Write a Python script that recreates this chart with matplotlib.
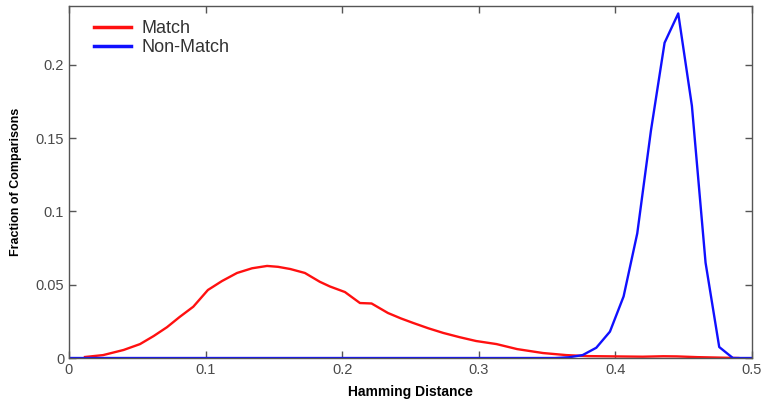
import matplotlib
matplotlib.use('Agg')
import matplotlib.pyplot as plt

plt.rcParams['font.family'] = ['Liberation Sans', 'DejaVu Sans']

# Match (genuine) distribution
match_x = [0.0117, 0.025, 0.040, 0.052, 0.062, 0.0717, 0.081, 0.091, 0.1017, 0.112,
           0.123, 0.134, 0.145, 0.153, 0.162, 0.1727, 0.1836, 0.191, 0.202, 0.213,
           0.2215, 0.2335, 0.243, 0.252, 0.263, 0.274, 0.286, 0.298, 0.313, 0.328,
           0.347, 0.364, 0.38, 0.40, 0.42, 0.435, 0.445, 0.46, 0.475, 0.49]
match_y = [0.0007, 0.002, 0.0055, 0.0095, 0.015, 0.021, 0.028, 0.035, 0.0464, 0.0525,
           0.058, 0.0612, 0.0628, 0.0622, 0.0607, 0.058, 0.052, 0.0488, 0.045, 0.0375,
           0.0372, 0.0307, 0.027, 0.0239, 0.0203, 0.0171, 0.0142, 0.0116, 0.0095, 0.0061,
           0.0034, 0.002, 0.0013, 0.0011, 0.0009, 0.0012, 0.0011, 0.0006, 0.0003, 0.0]

# Non-match (impostor) distribution
nonmatch_x = [0.0, 0.356, 0.366, 0.376, 0.386, 0.396, 0.406, 0.416, 0.426, 0.436,
              0.446, 0.456, 0.466, 0.476, 0.486, 0.5]
nonmatch_y = [0.0, 0.0, 0.0005, 0.002, 0.007, 0.018, 0.042, 0.085, 0.155, 0.215,
              0.235, 0.172, 0.065, 0.0075, 0.0, 0.0]

fig = plt.figure(figsize=(7.64, 4.08), dpi=100)
ax = fig.add_axes([0.0903, 0.1225, 0.894, 0.8625])

ax.plot(match_x, match_y, color='#ff1010', lw=1.7, label='Match')
ax.plot(nonmatch_x, nonmatch_y, color='#1010ff', lw=1.7, label='Non-Match')

ax.set_xlim(0, 0.5)
ax.set_ylim(0, 0.24)
ax.set_xticks([0, 0.1, 0.2, 0.3, 0.4, 0.5])
ax.set_xticklabels(['0', '0.1', '0.2', '0.3', '0.4', '0.5'])
ax.set_yticks([0, 0.05, 0.1, 0.15, 0.2])
ax.set_yticklabels(['0', '0.05', '0.1', '0.15', '0.2'])
ax.tick_params(direction='in', top=True, right=True, length=5, width=1,
               color='#555555', labelcolor='#4a4a4a', labelsize=10.5)
for s in ax.spines.values():
    s.set_color('#555555')
    s.set_linewidth(1)

ax.set_xlabel('Hamming Distance', fontsize=10, fontweight='bold', labelpad=6)
ax.set_ylabel('Fraction of Comparisons', fontsize=9, fontweight='bold', labelpad=10)

leg = ax.legend(loc='upper left', bbox_to_anchor=(0.026, 0.98), borderaxespad=0,
                frameon=False, fontsize=13, handlelength=2.05,
                handletextpad=0.6, labelspacing=0.1)
for t in leg.get_texts():
    t.set_color('#333333')
for l in leg.get_lines():
    l.set_linewidth(2.5)

fig.savefig('out.png', dpi=100)
